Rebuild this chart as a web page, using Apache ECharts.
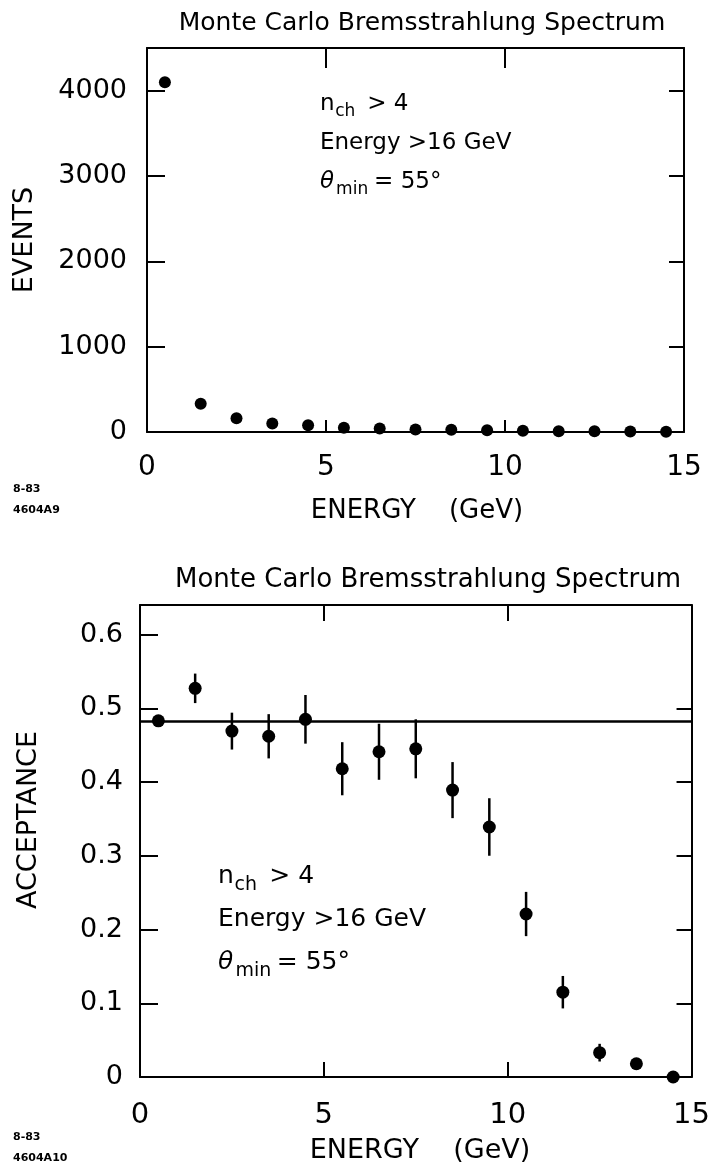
<!DOCTYPE html>
<html><head><meta charset="utf-8">
<script src="https://cdn.jsdelivr.net/npm/echarts@6/dist/echarts.min.js"></script>
<style>html,body{margin:0;padding:0;background:#fff}#c{width:713px;height:1173px}</style>
</head><body><div id="c"></div>
<script>
// ---------- data ----------
const energyBins = [0.5, 1.5, 2.5, 3.5, 4.5, 5.5, 6.5, 7.5, 8.5, 9.5, 10.5, 11.5, 12.5, 13.5, 14.5];
const eventCounts = [4100, 330, 160, 100, 80, 50, 40, 30, 25, 20, 15, 10, 8, 5, 3];
const acceptance = [0.483, 0.527, 0.469, 0.462, 0.485, 0.418, 0.441, 0.445, 0.389, 0.339, 0.221, 0.115, 0.033, 0.018, 0.0];
const acceptanceErr = [0.0, 0.020, 0.025, 0.030, 0.033, 0.036, 0.038, 0.040, 0.038, 0.039, 0.030, 0.022, 0.012, 0.004, 0.0];
const fitLevel = 0.482;
const xTickValues = [0, 5, 10, 15];
const eventTickValues = [0, 1000, 2000, 3000, 4000];
const accTickValues = [0, 0.1, 0.2, 0.3, 0.4, 0.5, 0.6];
const titleText = 'Monte Carlo Bremsstrahlung Spectrum';
const xName = 'ENERGY    (GeV)';
const yNameTop = 'EVENTS';
const yNameBottom = 'ACCEPTANCE';
const noteTop = ['8-83', '4604A9'];
const noteBottom = ['8-83', '4604A10'];

// ---------- style ----------
const FONT = 'DejaVu Sans';
const BLACK = '#000';
const AXW = 2;

const chart = echarts.init(document.getElementById('c'), null, {renderer: 'canvas'});

function frameX(gridIndex, pos, tickLen, showLabel, margin, fs) {
  return {
    type: 'value', gridIndex: gridIndex, position: pos, min: 0, max: 15, interval: 5,
    axisLine: {show: true, onZero: false, lineStyle: {color: BLACK, width: AXW}},
    axisTick: {show: true, inside: true, length: tickLen, customValues: [5, 10], lineStyle: {color: BLACK, width: AXW}},
    axisLabel: {show: showLabel, customValues: xTickValues, margin: margin, color: BLACK, fontSize: fs, fontFamily: FONT},
    splitLine: {show: false}
  };
}
function frameY(gridIndex, pos, min, max, tickVals, tickLen, labelVals, margin, fs, fmt) {
  return {
    type: 'value', gridIndex: gridIndex, position: pos, min: min, max: max,
    axisLine: {show: true, onZero: false, lineStyle: {color: BLACK, width: AXW}},
    axisTick: {show: true, inside: true, length: tickLen, customValues: tickVals, lineStyle: {color: BLACK, width: AXW}},
    axisLabel: {show: !!labelVals, customValues: labelVals || [], margin: margin, color: BLACK, fontSize: fs, fontFamily: FONT, formatter: fmt},
    splitLine: {show: false}
  };
}

function annotation(x0, base, fs, gap) {
  const sub = Math.round(fs * 0.75);
  const mid = (b) => b - 0.34 * fs;
  const els = [];
  const t = (x, y, text, size, extra) => els.push({type: 'text', x: x, y: y,
    style: Object.assign({text: text, font: size + 'px "' + FONT + '"', fill: BLACK, verticalAlign: 'middle', align: 'left'}, extra || {})});
  // line 1: n_ch > 4
  t(x0, mid(base), 'n', fs);
  t(x0 + 0.66 * fs, mid(base) + 0.34 * fs, 'ch', sub);
  t(x0 + 2.05 * fs, mid(base), '> 4', fs);
  // line 2
  t(x0, mid(base + gap), 'Energy >16 GeV', fs);
  // line 3: theta_min = 55°
  t(x0, mid(base + 2 * gap), '\u03B8', fs, {font: 'italic ' + fs + 'px "' + FONT + '"'});
  t(x0 + 0.7 * fs, mid(base + 2 * gap) + 0.34 * fs, 'min', sub);
  t(x0 + 2.35 * fs, mid(base + 2 * gap), '= 55\u00B0', fs);
  return els;
}

const graphics = [
  {type: 'text', x: 422, y: 23, style: {text: titleText, font: '25px "' + FONT + '"', fill: BLACK, align: 'center', verticalAlign: 'middle'}},
  {type: 'text', x: 428, y: 580, style: {text: titleText, font: '26px "' + FONT + '"', fill: BLACK, align: 'center', verticalAlign: 'middle'}},
  {type: 'text', x: 417, y: 511, style: {text: xName, font: '26px "' + FONT + '"', fill: BLACK, align: 'center', verticalAlign: 'middle'}},
  {type: 'text', x: 420, y: 1151, style: {text: xName, font: '27px "' + FONT + '"', fill: BLACK, align: 'center', verticalAlign: 'middle'}},
  {type: 'text', x: 25, y: 240, rotation: Math.PI / 2, style: {text: yNameTop, font: '27px "' + FONT + '"', fill: BLACK, align: 'center', verticalAlign: 'middle'}},
  {type: 'text', x: 29, y: 820, rotation: Math.PI / 2, style: {text: yNameBottom, font: '27px "' + FONT + '"', fill: BLACK, align: 'center', verticalAlign: 'middle'}},
  {type: 'text', x: 13, y: 489, style: {text: noteTop[0], font: 'bold 11px "' + FONT + '"', fill: BLACK, verticalAlign: 'middle'}},
  {type: 'text', x: 13, y: 510, style: {text: noteTop[1], font: 'bold 11px "' + FONT + '"', fill: BLACK, verticalAlign: 'middle'}},
  {type: 'text', x: 13, y: 1137, style: {text: noteBottom[0], font: 'bold 11px "' + FONT + '"', fill: BLACK, verticalAlign: 'middle'}},
  {type: 'text', x: 13, y: 1158, style: {text: noteBottom[1], font: 'bold 11px "' + FONT + '"', fill: BLACK, verticalAlign: 'middle'}}
].concat(annotation(320, 112, 23, 39), annotation(218, 885, 25, 43));

const plain = function (v) { return String(v); };

const option = {
  backgroundColor: '#fff',
  animation: false,
  grid: [
    {left: 147, top: 48, width: 537, height: 384},
    {left: 140, top: 605, width: 557, height: 472}
  ],
  xAxis: [
    frameX(0, 'bottom', 12, true, 22, 28),
    frameX(0, 'top', 20, false, 8, 28),
    frameX(1, 'bottom', 15, true, 24, 29),
    frameX(1, 'top', 16, false, 8, 29)
  ],
  yAxis: [
    frameY(0, 'left', 0, 4500, [1000, 2000, 3000, 4000], 18, eventTickValues, 20, 27, plain),
    frameY(0, 'right', 0, 4500, [1000, 2000, 3000, 4000], 15, null, 8, 27),
    frameY(1, 'left', 0, 0.64, [0.1, 0.2, 0.3, 0.4, 0.5, 0.6], 18, accTickValues, 17, 27,
      function (v) { return v === 0 ? '0' : v.toFixed(1); }),
    frameY(1, 'right', 0, 0.64, [0.1, 0.2, 0.3, 0.4, 0.5], 15, null, 8, 27)
  ],
  series: [
    {
      type: 'scatter', xAxisIndex: 0, yAxisIndex: 0, symbol: 'circle', symbolSize: 12,
      itemStyle: {color: BLACK, opacity: 1}, clip: false, z: 5,
      data: energyBins.map((x, i) => [x, eventCounts[i]])
    },
    {
      type: 'line', xAxisIndex: 2, yAxisIndex: 2, symbol: 'none', z: 3,
      lineStyle: {color: BLACK, width: 2.5},
      data: [[xTickValues[0], fitLevel], [xTickValues[xTickValues.length - 1], fitLevel]]
    },
    {
      type: 'custom', xAxisIndex: 2, yAxisIndex: 2, z: 4, clip: false,
      data: energyBins.map((x, i) => [x, acceptance[i], acceptanceErr[i]]),
      renderItem: function (params, api) {
        const x = api.value(0), v = api.value(1), e = api.value(2);
        const p1 = api.coord([x, v - e]);
        const p2 = api.coord([x, v + e]);
        return {type: 'line', shape: {x1: p1[0], y1: p1[1], x2: p2[0], y2: p2[1]},
          style: {stroke: BLACK, lineWidth: 2.5}};
      }
    },
    {
      type: 'scatter', xAxisIndex: 2, yAxisIndex: 2, symbol: 'circle', symbolSize: 13,
      itemStyle: {color: BLACK, opacity: 1}, clip: false, z: 5,
      data: energyBins.map((x, i) => [x, acceptance[i]])
    }
  ],
  graphic: graphics
};
chart.setOption(option);
</script>
</body></html>
